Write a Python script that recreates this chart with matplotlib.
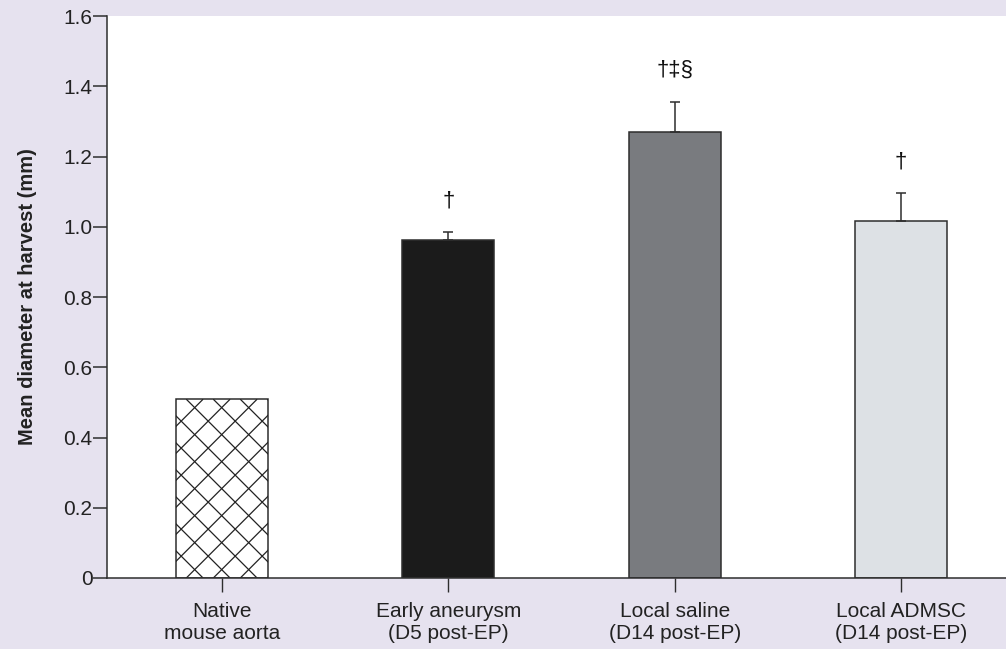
import matplotlib.pyplot as plt
from matplotlib.collections import LineCollection
from matplotlib.transforms import IdentityTransform
import numpy as np

plt.rcParams['font.family'] = ['Liberation Sans', 'DejaVu Sans']

## Data

groups = ["Native\nmouse aorta", "Early aneurysm\n(D5 post-EP)",
          "Local saline\n(D14 post-EP)", "Local ADMSC\n(D14 post-EP)"]
means = [0.509, 0.962, 1.271, 1.016]
errs = [0.0, 0.022, 0.085, 0.079]
marks = ["", "†", "†‡§", "†"]
colors = ["white", "#1b1b1b", "#797b7f", "#dde1e5"]

bg = "#e6e2ef"
edge = "#2e2e2e"

## Plot

fig = plt.figure(figsize=(10.06, 6.49), dpi=100, facecolor=bg)
ax = fig.add_axes([0.1064, 0.1094, 0.8936, 0.8659])
ax.set_facecolor("white")

x = np.arange(len(groups))
bars = ax.bar(x, means, width=0.406, color=colors, edgecolor=edge,
              linewidth=1.1, zorder=2)
for i in range(len(groups)):
    if errs[i] > 0:
        ax.errorbar(x[i], means[i], yerr=[[0], [errs[i]]], fmt="none",
                    ecolor=edge, elinewidth=1.1, capsize=3.8, capthick=1.1, zorder=3)
    if marks[i]:
        ax.text(x[i], means[i] + errs[i] + 0.09, marks[i], ha="center", va="center",
                fontsize=16, color="#111111")

ax.set_xlim(-0.508, 3.464)
ax.set_ylim(0, 1.6)
ax.set_yticks([0, 0.2, 0.4, 0.6, 0.8, 1.0, 1.2, 1.4, 1.6])
ax.set_yticklabels(["0", "0.2", "0.4", "0.6", "0.8", "1.0", "1.2", "1.4", "1.6"])
ax.set_xticks(x)
ax.set_xticklabels(groups, fontsize=15, color="#222222")
ax.tick_params(axis="y", labelsize=15, colors=edge, labelcolor="#222222",
               length=10, width=1.1, direction="out", pad=0.5)
ax.tick_params(axis="x", length=10, width=1.0, colors=edge, labelcolor="#222222", pad=7)

ax.set_ylabel("Mean diameter at harvest (mm)", fontsize=14.5, fontweight="bold",
              color="#222222", labelpad=19)

for s in ["top", "right"]:
    ax.spines[s].set_visible(False)
for s in ["left", "bottom"]:
    ax.spines[s].set_color(edge)
    ax.spines[s].set_linewidth(1.1)

# cross hatch on the native aorta bar, drawn in pixels and clipped to the bar
fig.canvas.draw()
bb = bars[0].get_window_extent()
step = 27.0
h = bb.height
segs = []
k = bb.x0 - h
while k < bb.x1 + h:
    segs.append([(k, bb.y0), (k + h, bb.y1)])
    segs.append([(k, bb.y1), (k + h, bb.y0)])
    k += step
lc = LineCollection(segs, colors="#222222", linewidths=0.9, transform=IdentityTransform(),
                    zorder=2.5)
ax.add_collection(lc, autolim=False)
lc.set_clip_box(bars[0].get_window_extent())

plt.savefig("out.png", dpi=100, facecolor=bg)
